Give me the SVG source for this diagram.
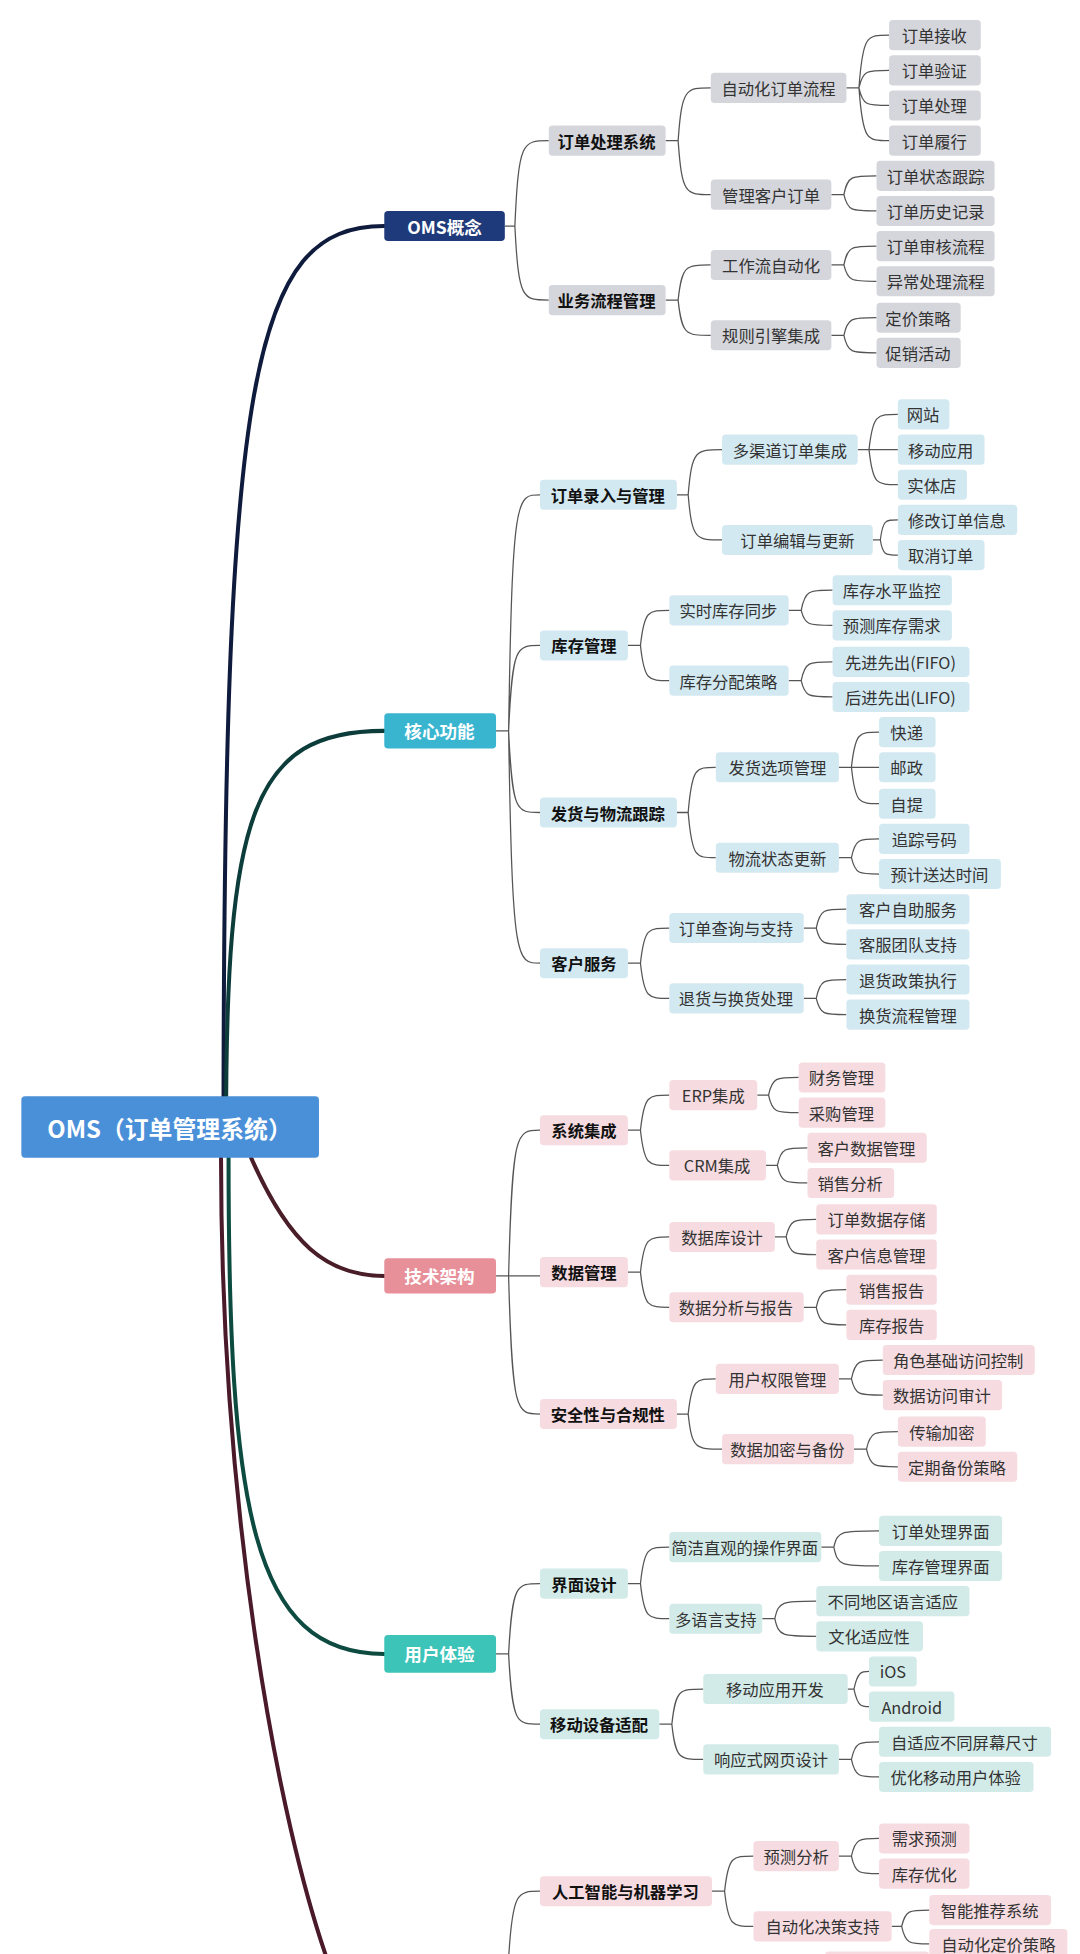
<svg xmlns="http://www.w3.org/2000/svg" width="1080" height="1954" viewBox="0 0 1080 1954">
<style>
text{font-family:"Noto Sans CJK SC","Liberation Sans",sans-serif;font-size:13px;fill:#333;text-anchor:middle;dominant-baseline:central}
.b{font-weight:bold;fill:#111}
.w{font-weight:bold;fill:#fff;font-size:14px}
.g rect{fill:#d5d6dc}.c rect{fill:#d3e9f1}.p rect{fill:#f6dce1}.t rect{fill:#d3ebe8}
.lk path{fill:none;stroke:#555;stroke-width:1}
.main path{fill:none;stroke-width:3.2;stroke-linecap:round}
</style>
<rect width="1080" height="1954" fill="#fff"/>
<g transform="scale(1.2558)">
<g class="main">
<path d="M178,898C178,300 200,180 306,180" stroke="#0f1b3c"/>
<path d="M180,898C180,650 200,582 306,582" stroke="#0d3d3a"/>
<path d="M200,922C230,990 260,1016 306,1016" stroke="#4a1e28"/>
<path d="M182,922C182,1200 200,1317 306,1317" stroke="#0d4a40"/>
<path d="M176,922C176,1200 220,1450 264,1570" stroke="#4a1a2a"/>
</g>
<g class="lk">
<path d="M402,180H410C413,112 416,112 437,112M410,180C413,239 416,239 437,239"/>
<path d="M395,582H405C408,394 411,394 430,394M405,582C408,514 411,514 430,514M405,582C408,647 411,647 430,647M405,582C408,767 411,767 430,767"/>
<path d="M395,1016H405C408,900 411,900 430,900M405,1016H430M405,1016C408,1126 411,1126 430,1126"/>
<path d="M395,1317H405C408,1261 411,1261 430,1261M405,1317C408,1373 411,1373 430,1373"/>
<path d="M405,1560C408,1506 412,1506 430,1506"/>
<path d="M530,112H540C543,70 546,70 566,70M540,112C543,155 546,155 566,155"/>
<path d="M530,239H540C543,211 546,211 566,211M540,239C543,267 546,267 566,267"/>
<path d="M539,394H548C551,358 554,358 575,358M548,394C551,430 554,430 575,430"/>
<path d="M500,514H510C513,486 516,486 533,486M510,514C513,542 516,542 533,542"/>
<path d="M539,647H548C551,611 554,611 570,611M548,647C551,683 554,683 570,683"/>
<path d="M500,767H510C513,739 516,739 533,739M510,767C513,795 516,795 533,795"/>
<path d="M500,900H510C513,872 516,872 533,872M510,900C513,928 516,928 533,928"/>
<path d="M500,1013H510C513,985 516,985 533,985M510,1013C513,1041 516,1041 533,1041"/>
<path d="M539,1126H548C551,1098 554,1098 570,1098M548,1126C551,1154 554,1154 575,1154"/>
<path d="M500,1261H510C513,1232 516,1232 533,1232M510,1261C513,1289 516,1289 533,1289"/>
<path d="M525,1373H535C538,1345 541,1345 560,1345M535,1373C538,1401 541,1401 560,1401"/>
<path d="M567,1506H577C580,1478 583,1478 600,1478M577,1506C580,1534 583,1534 600,1534"/>
<path d="M674,70H684C687,28 690,28 708,28M684,70C687,56 690,56 708,56M684,70C687,84 690,84 708,84M684,70C687,112 690,112 708,112"/>
<path d="M662,155H672C675,140 678,140 698,140M672,155C675,168 678,168 698,168"/>
<path d="M662,211H672C675,196 678,196 698,196M672,211C675,224 678,224 698,224"/>
<path d="M662,267H672C675,253 678,253 698,253M672,267C675,281 678,281 698,281"/>
<path d="M683,358H692C695,330 698,330 715,330M692,358H715M692,358C695,386 698,386 715,386"/>
<path d="M695,430H701C703,414 705,414 715,414M701,430C703,442 705,442 715,442"/>
<path d="M628,486H638C641,470 644,470 663,470M638,486C641,498 644,498 663,498"/>
<path d="M628,542H638C641,527 644,527 663,527M638,542C641,555 644,555 663,555"/>
<path d="M668,611H678C681,583 684,583 700,583M678,611H700M678,611C681,640 684,640 700,640"/>
<path d="M668,683H678C681,668 684,668 700,668M678,683C681,696 684,696 700,696"/>
<path d="M640,739H650C653,724 656,724 674,724M650,739C653,752 656,752 674,752"/>
<path d="M640,795H650C653,780 656,780 674,780M650,795C653,808 656,808 674,808"/>
<path d="M603,872H612C615,858 618,858 636,858M612,872C615,886 618,886 636,886"/>
<path d="M610,928H619C622,914 625,914 643,914M619,928C622,942 625,942 643,942"/>
<path d="M617,985H626C629,971 632,971 650,971M626,985C629,999 632,999 650,999"/>
<path d="M640,1041H650C653,1027 656,1027 674,1027M650,1041C653,1055 656,1055 674,1055"/>
<path d="M668,1098H678C681,1083 684,1083 703,1083M678,1098C681,1111 684,1111 703,1111"/>
<path d="M680,1154H690C693,1140 696,1140 715,1140M690,1154C693,1168 696,1168 715,1168"/>
<path d="M654,1232H664C667,1219 670,1219 700,1219M664,1232C667,1247 670,1247 700,1247"/>
<path d="M607,1289H617C620,1275 623,1275 650,1275M617,1289C620,1303 623,1303 650,1303"/>
<path d="M675,1345H680C683,1331 686,1331 692,1331M680,1345C683,1359 686,1359 692,1359"/>
<path d="M668,1401H678C681,1387 684,1387 700,1387M678,1401C681,1415 684,1415 700,1415"/>
<path d="M668,1478H678C681,1464 684,1464 700,1464M678,1478C681,1492 684,1492 700,1492"/>
<path d="M710,1534H718C721,1521 724,1521 740,1521M718,1534C721,1548 724,1548 740,1548"/>
</g>
<g id="root"><rect x="17" y="873" width="237" height="49" rx="3" fill="#4a90d9"/><text x="135" y="898" class="w" style="font-size:19px">OMS（订单管理系统）</text></g>
<g id="l1a"><rect x="306" y="168" width="96" height="24" rx="3" fill="#1f3a7a"/><text x="354" y="180" class="w">OMS概念</text></g>
<g id="l1b"><rect x="306" y="568" width="89" height="28" rx="3" fill="#3ab5d0"/><text x="350" y="582" class="w">核心功能</text></g>
<g id="l1c"><rect x="306" y="1002" width="89" height="28" rx="3" fill="#e8909a"/><text x="350" y="1016" class="w">技术架构</text></g>
<g id="l1d"><rect x="306" y="1302" width="89" height="30" rx="3" fill="#3cc4b8"/><text x="350" y="1317" class="w">用户体验</text></g>
<g class="g">
<g id="a1"><rect x="437" y="100" width="93" height="24" rx="3"/><text x="483" y="112" class="b">订单处理系统</text></g>
<g id="a2"><rect x="437" y="227" width="93" height="24" rx="3"/><text x="483" y="239" class="b">业务流程管理</text></g>
<g id="a11"><rect x="566" y="58" width="108" height="24" rx="3"/><text x="620" y="70">自动化订单流程</text></g>
<g id="a12"><rect x="566" y="143" width="96" height="24" rx="3"/><text x="614" y="155">管理客户订单</text></g>
<g id="a21"><rect x="566" y="199" width="96" height="24" rx="3"/><text x="614" y="211">工作流自动化</text></g>
<g id="a22"><rect x="566" y="255" width="96" height="24" rx="3"/><text x="614" y="267">规则引擎集成</text></g>
<g id="a111"><rect x="708" y="16" width="73" height="24" rx="3"/><text x="744" y="28">订单接收</text></g>
<g id="a112"><rect x="708" y="44" width="73" height="24" rx="3"/><text x="744" y="56">订单验证</text></g>
<g id="a113"><rect x="708" y="72" width="73" height="24" rx="3"/><text x="744" y="84">订单处理</text></g>
<g id="a114"><rect x="708" y="100" width="73" height="24" rx="3"/><text x="744" y="112">订单履行</text></g>
<g id="a121"><rect x="698" y="128" width="94" height="24" rx="3"/><text x="745" y="140">订单状态跟踪</text></g>
<g id="a122"><rect x="698" y="156" width="94" height="24" rx="3"/><text x="745" y="168">订单历史记录</text></g>
<g id="a211"><rect x="698" y="184" width="94" height="24" rx="3"/><text x="745" y="196">订单审核流程</text></g>
<g id="a212"><rect x="698" y="212" width="94" height="24" rx="3"/><text x="745" y="224">异常处理流程</text></g>
<g id="a221"><rect x="698" y="241" width="67" height="24" rx="3"/><text x="731" y="253">定价策略</text></g>
<g id="a222"><rect x="698" y="269" width="67" height="24" rx="3"/><text x="731" y="281">促销活动</text></g>
</g>
<g class="c">
<g id="b1"><rect x="430" y="382" width="109" height="24" rx="3"/><text x="484" y="394" class="b">订单录入与管理</text></g>
<g id="b2"><rect x="430" y="502" width="70" height="24" rx="3"/><text x="465" y="514" class="b">库存管理</text></g>
<g id="b3"><rect x="430" y="635" width="109" height="24" rx="3"/><text x="484" y="647" class="b">发货与物流跟踪</text></g>
<g id="b4"><rect x="430" y="755" width="70" height="24" rx="3"/><text x="465" y="767" class="b">客户服务</text></g>
<g id="b11"><rect x="575" y="346" width="108" height="24" rx="3"/><text x="629" y="358">多渠道订单集成</text></g>
<g id="b12"><rect x="575" y="418" width="120" height="24" rx="3"/><text x="635" y="430">订单编辑与更新</text></g>
<g id="b21"><rect x="533" y="474" width="95" height="24" rx="3"/><text x="580" y="486">实时库存同步</text></g>
<g id="b22"><rect x="533" y="530" width="95" height="24" rx="3"/><text x="580" y="542">库存分配策略</text></g>
<g id="b31"><rect x="570" y="599" width="98" height="24" rx="3"/><text x="619" y="611">发货选项管理</text></g>
<g id="b32"><rect x="570" y="671" width="98" height="24" rx="3"/><text x="619" y="683">物流状态更新</text></g>
<g id="b41"><rect x="533" y="727" width="107" height="24" rx="3"/><text x="586" y="739">订单查询与支持</text></g>
<g id="b42"><rect x="533" y="783" width="107" height="24" rx="3"/><text x="586" y="795">退货与换货处理</text></g>
<g id="b111"><rect x="715" y="318" width="41" height="24" rx="3"/><text x="735" y="330">网站</text></g>
<g id="b112"><rect x="715" y="346" width="69" height="24" rx="3"/><text x="749" y="358">移动应用</text></g>
<g id="b113"><rect x="715" y="374" width="55" height="24" rx="3"/><text x="742" y="386">实体店</text></g>
<g id="b121"><rect x="715" y="402" width="95" height="24" rx="3"/><text x="762" y="414">修改订单信息</text></g>
<g id="b122"><rect x="715" y="430" width="69" height="24" rx="3"/><text x="749" y="442">取消订单</text></g>
<g id="b211"><rect x="663" y="458" width="95" height="24" rx="3"/><text x="710" y="470">库存水平监控</text></g>
<g id="b212"><rect x="663" y="486" width="95" height="24" rx="3"/><text x="710" y="498">预测库存需求</text></g>
<g id="b221"><rect x="663" y="515" width="109" height="24" rx="3"/><text x="717" y="527">先进先出(FIFO)</text></g>
<g id="b222"><rect x="663" y="543" width="109" height="24" rx="3"/><text x="717" y="555">后进先出(LIFO)</text></g>
<g id="b311"><rect x="700" y="571" width="45" height="24" rx="3"/><text x="722" y="583">快递</text></g>
<g id="b312"><rect x="700" y="599" width="45" height="24" rx="3"/><text x="722" y="611">邮政</text></g>
<g id="b313"><rect x="700" y="628" width="45" height="24" rx="3"/><text x="722" y="640">自提</text></g>
<g id="b321"><rect x="700" y="656" width="72" height="24" rx="3"/><text x="736" y="668">追踪号码</text></g>
<g id="b322"><rect x="700" y="684" width="97" height="24" rx="3"/><text x="748" y="696">预计送达时间</text></g>
<g id="b411"><rect x="674" y="712" width="98" height="24" rx="3"/><text x="723" y="724">客户自助服务</text></g>
<g id="b412"><rect x="674" y="740" width="98" height="24" rx="3"/><text x="723" y="752">客服团队支持</text></g>
<g id="b421"><rect x="674" y="768" width="98" height="24" rx="3"/><text x="723" y="780">退货政策执行</text></g>
<g id="b422"><rect x="674" y="796" width="98" height="24" rx="3"/><text x="723" y="808">换货流程管理</text></g>
</g>
<g class="p">
<g id="c1"><rect x="430" y="888" width="70" height="24" rx="3"/><text x="465" y="900" class="b">系统集成</text></g>
<g id="c2"><rect x="430" y="1001" width="70" height="24" rx="3"/><text x="465" y="1013" class="b">数据管理</text></g>
<g id="c3"><rect x="430" y="1114" width="109" height="24" rx="3"/><text x="484" y="1126" class="b">安全性与合规性</text></g>
<g id="c11"><rect x="533" y="860" width="70" height="24" rx="3"/><text x="568" y="872">ERP集成</text></g>
<g id="c12"><rect x="533" y="916" width="77" height="24" rx="3"/><text x="571" y="928">CRM集成</text></g>
<g id="c21"><rect x="533" y="973" width="84" height="24" rx="3"/><text x="575" y="985">数据库设计</text></g>
<g id="c22"><rect x="533" y="1029" width="107" height="24" rx="3"/><text x="586" y="1041">数据分析与报告</text></g>
<g id="c31"><rect x="570" y="1086" width="98" height="24" rx="3"/><text x="619" y="1098">用户权限管理</text></g>
<g id="c32"><rect x="575" y="1142" width="105" height="24" rx="3"/><text x="627" y="1154">数据加密与备份</text></g>
<g id="c111"><rect x="636" y="846" width="69" height="24" rx="3"/><text x="670" y="858">财务管理</text></g>
<g id="c112"><rect x="636" y="874" width="69" height="24" rx="3"/><text x="670" y="886">采购管理</text></g>
<g id="c121"><rect x="643" y="902" width="95" height="24" rx="3"/><text x="690" y="914">客户数据管理</text></g>
<g id="c122"><rect x="643" y="930" width="69" height="24" rx="3"/><text x="677" y="942">销售分析</text></g>
<g id="c211"><rect x="650" y="959" width="96" height="24" rx="3"/><text x="698" y="971">订单数据存储</text></g>
<g id="c212"><rect x="650" y="987" width="96" height="24" rx="3"/><text x="698" y="999">客户信息管理</text></g>
<g id="c221"><rect x="674" y="1015" width="72" height="24" rx="3"/><text x="710" y="1027">销售报告</text></g>
<g id="c222"><rect x="674" y="1043" width="72" height="24" rx="3"/><text x="710" y="1055">库存报告</text></g>
<g id="c311"><rect x="703" y="1071" width="121" height="24" rx="3"/><text x="763" y="1083">角色基础访问控制</text></g>
<g id="c312"><rect x="703" y="1099" width="95" height="24" rx="3"/><text x="750" y="1111">数据访问审计</text></g>
<g id="c321"><rect x="715" y="1128" width="70" height="24" rx="3"/><text x="750" y="1140">传输加密</text></g>
<g id="c322"><rect x="715" y="1156" width="95" height="24" rx="3"/><text x="762" y="1168">定期备份策略</text></g>
</g>
<g class="t">
<g id="d1"><rect x="430" y="1249" width="70" height="24" rx="3"/><text x="465" y="1261" class="b">界面设计</text></g>
<g id="d2"><rect x="430" y="1361" width="95" height="24" rx="3"/><text x="477" y="1373" class="b">移动设备适配</text></g>
<g id="d11"><rect x="533" y="1220" width="121" height="24" rx="3"/><text x="593" y="1232">简洁直观的操作界面</text></g>
<g id="d12"><rect x="533" y="1277" width="74" height="24" rx="3"/><text x="570" y="1289">多语言支持</text></g>
<g id="d21"><rect x="560" y="1333" width="115" height="24" rx="3"/><text x="617" y="1345">移动应用开发</text></g>
<g id="d22"><rect x="560" y="1389" width="108" height="24" rx="3"/><text x="614" y="1401">响应式网页设计</text></g>
<g id="d111"><rect x="700" y="1207" width="98" height="24" rx="3"/><text x="749" y="1219">订单处理界面</text></g>
<g id="d112"><rect x="700" y="1235" width="98" height="24" rx="3"/><text x="749" y="1247">库存管理界面</text></g>
<g id="d121"><rect x="650" y="1263" width="122" height="24" rx="3"/><text x="711" y="1275">不同地区语言适应</text></g>
<g id="d122"><rect x="650" y="1291" width="85" height="24" rx="3"/><text x="692" y="1303">文化适应性</text></g>
<g id="d211"><rect x="692" y="1319" width="38" height="24" rx="3"/><text x="711" y="1331">iOS</text></g>
<g id="d212"><rect x="692" y="1347" width="68" height="24" rx="3"/><text x="726" y="1359">Android</text></g>
<g id="d221"><rect x="700" y="1375" width="137" height="24" rx="3"/><text x="768" y="1387">自适应不同屏幕尺寸</text></g>
<g id="d222"><rect x="700" y="1403" width="123" height="24" rx="3"/><text x="761" y="1415">优化移动用户体验</text></g>
</g>
<g class="p">
<g id="e1"><rect x="430" y="1494" width="137" height="24" rx="3"/><text x="498" y="1506" class="b">人工智能与机器学习</text></g>
<g id="e11"><rect x="600" y="1466" width="68" height="24" rx="3"/><text x="634" y="1478">预测分析</text></g>
<g id="e12"><rect x="600" y="1522" width="110" height="24" rx="3"/><text x="655" y="1534">自动化决策支持</text></g>
<g id="e111"><rect x="700" y="1452" width="72" height="24" rx="3"/><text x="736" y="1464">需求预测</text></g>
<g id="e112"><rect x="700" y="1480" width="72" height="24" rx="3"/><text x="736" y="1492">库存优化</text></g>
<g id="e121"><rect x="740" y="1509" width="97" height="24" rx="3"/><text x="788" y="1521">智能推荐系统</text></g>
<g id="e122"><rect x="740" y="1536" width="110" height="24" rx="3"/><text x="795" y="1548">自动化定价策略</text></g>
<g id="e2"><rect x="657" y="1554" width="83" height="24" rx="3"/></g>
</g>
</g>
</svg>
